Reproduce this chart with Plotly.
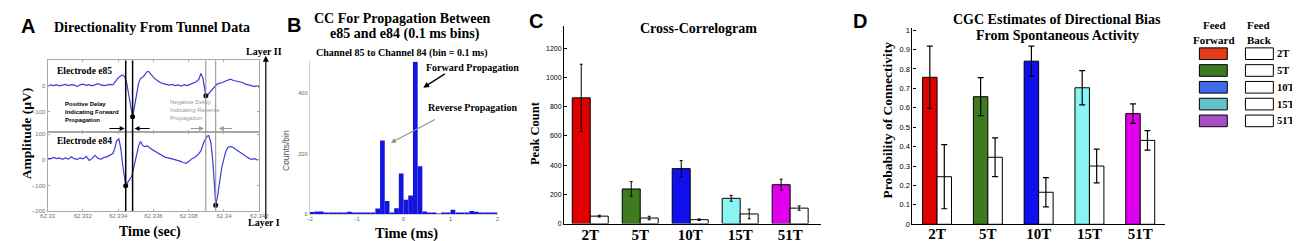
import plotly.graph_objects as go

W, H = 1300, 241

# ---------------- Panel A data (time offset in ms from 62.330 s, amplitude in µV) ----------------
A_T0 = 62.33
e85_ms = [0.00, 0.17, 0.34, 0.50, 0.67, 0.84, 1.01, 1.18, 1.35, 1.51, 1.68, 1.85, 2.02, 2.19, 2.36,
          2.52, 2.69, 2.86, 3.03, 3.20, 3.36, 3.53, 3.70, 3.87, 3.98, 4.15, 4.26, 4.37, 4.49, 4.60,
          4.71, 4.82, 4.93, 5.05, 5.16, 5.27, 5.38, 5.49, 5.61, 5.72, 5.83, 5.94, 6.06, 6.22, 6.39,
          6.56, 6.73, 6.90, 7.06, 7.23, 7.40, 7.57, 7.74, 7.91, 8.07, 8.24, 8.41, 8.58, 8.69, 8.80,
          8.86, 8.97, 9.08, 9.20, 9.31, 9.42, 9.59, 9.76, 9.92, 10.09, 10.26, 10.37, 10.54, 10.71,
          10.88, 11.05, 11.21, 11.38, 11.55, 11.72, 11.89, 12.00]
e85_uv = [-2, 3, 0, 4, -1, 3, 5, 0, 4, 2, -3, 3, 6, 1, 4,
          -1, 2, 8, 3, 0, 2, 5, 3, 20, 28, 38, 41, 34, 10, -35,
          -80, -120, -80, -30, 10, 28, 32, 40, 53, 55, 45, 35, 28, 20, 12,
          8, 6, 2, 5, 0, 3, -2, 4, 0, 5, 10, 14, 25, 47, 30,
          0, -39, -35, -25, -15, -6, 5, 10, 12, 18, 22, 25, 20, 18,
          14, 12, 6, 4, 0, -4, 0, -6]
e84_ms = [0.00, 0.17, 0.34, 0.50, 0.67, 0.84, 1.01, 1.18, 1.35, 1.51, 1.68, 1.85, 2.02, 2.19, 2.36,
          2.52, 2.69, 2.86, 3.03, 3.20, 3.36, 3.53, 3.70, 3.81, 3.92, 4.04, 4.15, 4.26, 4.37, 4.43,
          4.54, 4.65, 4.77, 4.82, 4.93, 5.05, 5.16, 5.27, 5.38, 5.49, 5.66, 5.83, 6.00, 6.17, 6.34,
          6.50, 6.67, 6.84, 7.01, 7.18, 7.35, 7.51, 7.68, 7.85, 8.02, 8.19, 8.35, 8.52, 8.69, 8.86,
          9.03, 9.14, 9.25, 9.36, 9.48, 9.53, 9.64, 9.76, 9.87, 9.98, 10.09, 10.20, 10.37, 10.54,
          10.71, 10.88, 11.05, 11.21, 11.38, 11.55, 11.72, 11.89, 12.00]
e84_uv = [6, 4, 10, 5, 8, 2, 8, 3, 12, 5, 2, 8, 4, 14, -2,
          5, 18, 6, 3, 10, 12, 20, 25, 45, 75, 82, 45, -20, -80, -101,
          -88, -76, -65, -51, -20, 15, 55, 72, 58, 52, 55, 45, 38, 30, 25,
          18, 10, 8, 5, 2, 0, -5, -10, -13, -5, 5, 10, 20, 35, 70,
          92, 95, 70, 0, -120, -178, -140, -80, -30, 0, 30, 48, 53, 48,
          40, 32, 22, 14, 8, 2, 5, 0, 2]
fwd_delay_ms = [4.43, 4.82]
rev_delay_ms = [8.97, 9.53]
e85_marks_ms = [4.82, 8.97]
e85_marks_uv = [-120, -39]
e84_marks_ms = [4.43, 9.53]
e84_marks_uv = [-101, -178]
a_xticks_s = [62.33, 62.332, 62.334, 62.336, 62.338, 62.34, 62.342]
a_xtick_text = ["62.33", "62.332", "62.334", "62.336", "62.338", "62.34", "62.342"]

# ---------------- Panel B data (cross-correlogram, 0.1 ms bins) ----------------
cc_bin_ms = [-1.95, -1.85, -1.75, -1.65, -1.55, -1.45, -1.35, -1.25, -1.15, -1.05,
             -0.95, -0.85, -0.75, -0.65, -0.55, -0.45, -0.35, -0.25, -0.15, -0.05,
             0.05, 0.15, 0.25, 0.35, 0.45, 0.55, 0.65, 0.75, 0.85, 0.95,
             1.05, 1.15, 1.25, 1.35, 1.45, 1.55, 1.65, 1.75, 1.85, 1.95]
cc_counts = [6, 8, 8, 5, 3, 2, 2, 3, 7, 5,
             3, 5, 2, 3, 18, 244, 43, 4, 19, 134,
             47, 61, 505, 158, 8, 4, 2, 1, 3, 2,
             14, 5, 3, 5, 10, 7, 4, 3, 2, 3]

# ---------------- Panels C & D data ----------------
groups = ["2T", "5T", "10T", "15T", "51T"]
c_ff = [860, 237, 376, 173, 266]
c_ff_err = [230, 50, 55, 20, 38]
c_fb = [51, 38, 27, 66, 106]
c_fb_err = [6, 12, 5, 33, 15]
d_ff = [0.757, 0.657, 0.84, 0.703, 0.57]
d_ff_err = [0.16, 0.098, 0.077, 0.088, 0.05]
d_fb = [0.245, 0.345, 0.165, 0.30, 0.432]
d_fb_err = [0.165, 0.10, 0.075, 0.087, 0.05]
c_ticks = [0, 200, 400, 600, 800, 1000, 1200]
d_ticks = [0, 0.1, 0.2, 0.3, 0.4, 0.5, 0.6, 0.7, 0.8, 0.9, 1.0]
d_tick_text = ["0", "0.1", "0.2", "0.3", "0.4", "0.5", "0.6", "0.7", "0.8", "0.9", "1"]

bar_colors = ["#e00000", "#3e7a1e", "#1010ee", "#8af4f4", "#e000ee"]
legend_colors = ["#e63a1c", "#3b7a25", "#3f6be8", "#63c2c6", "#a64fc4"]

SERIF = "Liberation Serif"
SANS = "Liberation Sans"


def px(x):
    return x / W


def py(y):
    return 1 - y / H


def to_s(ms_list):
    return [A_T0 + m / 1000.0 for m in ms_list]


fig = go.Figure()

# Panel A traces
trace_col = "#3c3cd6"
fig.add_trace(go.Scatter(x=to_s(e85_ms), y=e85_uv, mode="lines", line=dict(color=trace_col, width=1.2),
                         xaxis="x", yaxis="y", showlegend=False))
fig.add_trace(go.Scatter(x=to_s(e84_ms), y=e84_uv, mode="lines", line=dict(color=trace_col, width=1.2),
                         xaxis="x2", yaxis="y2", showlegend=False))
fig.add_trace(go.Scatter(x=to_s(e85_marks_ms), y=e85_marks_uv, mode="markers",
                         marker=dict(color="black", size=5), xaxis="x", yaxis="y", showlegend=False))
fig.add_trace(go.Scatter(x=to_s(e84_marks_ms), y=e84_marks_uv, mode="markers",
                         marker=dict(color="black", size=5), xaxis="x2", yaxis="y2", showlegend=False))

# Panel B
fig.add_trace(go.Bar(x=cc_bin_ms, y=cc_counts, width=0.1, marker=dict(color="#1414e0", line=dict(width=0)),
                     xaxis="x3", yaxis="y3", showlegend=False))

# Panel C
bw_c = 0.36
fig.add_trace(go.Bar(x=groups, y=c_ff, width=bw_c, offset=-bw_c,
                     marker=dict(color=bar_colors, line=dict(color="black", width=1)),
                     error_y=dict(type="data", array=c_ff_err, color="black", thickness=1, width=1.5),
                     xaxis="x4", yaxis="y4", showlegend=False))
fig.add_trace(go.Bar(x=groups, y=c_fb, width=bw_c, offset=0,
                     marker=dict(color="white", line=dict(color="black", width=1)),
                     error_y=dict(type="data", array=c_fb_err, color="black", thickness=1, width=1.5),
                     xaxis="x4", yaxis="y4", showlegend=False))

# Panel D
bw_d = 0.285
fig.add_trace(go.Bar(x=groups, y=d_ff, width=bw_d, offset=-bw_d,
                     marker=dict(color=bar_colors, line=dict(color="black", width=1)),
                     error_y=dict(type="data", array=d_ff_err, color="black", thickness=1.2, width=3),
                     xaxis="x5", yaxis="y5", showlegend=False))
fig.add_trace(go.Bar(x=groups, y=d_fb, width=bw_d, offset=0,
                     marker=dict(color="white", line=dict(color="black", width=1)),
                     error_y=dict(type="data", array=d_fb_err, color="black", thickness=1.2, width=3),
                     xaxis="x5", yaxis="y5", showlegend=False))

# ---------------- Axes ----------------
a_box = "#a8a8a8"
a_tick_font = dict(family=SANS, size=6, color="#707070")
common_a = dict(showgrid=False, zeroline=False, showline=True, mirror="ticks", linecolor=a_box,
                ticks="inside", ticklen=2, tickcolor=a_box, tickfont=a_tick_font)
xa_dom = [px(32), px(246.7)]
cat_font = dict(family=SERIF, size=15, color="black", weight="bold")

layout_axes = dict(
    xaxis=dict(domain=xa_dom, range=[62.33, 62.342], anchor="y", tickvals=a_xticks_s,
               showticklabels=False, **common_a),
    yaxis=dict(domain=[py(126), py(52)], range=[-180, 97], anchor="x", tickvals=[-100, 0, 100], **common_a),
    xaxis2=dict(domain=xa_dom, range=[62.33, 62.342], anchor="y2", tickvals=a_xticks_s,
                ticktext=a_xtick_text, ticklabelstandoff=-1, **common_a),
    yaxis2=dict(domain=[py(207), py(126)], range=[-200, 108], anchor="x2",
                tickvals=[-200, -100, 0, 100], **common_a),
    xaxis3=dict(domain=[px(297.7), px(488.3)], range=[-2, 2], anchor="y3", tickvals=[-2, -1, 0, 1, 2],
                showgrid=False, zeroline=False, showline=True, linecolor="#d0d0d0", ticks="",
                ticklabelstandoff=-1,
                tickfont=dict(family=SANS, size=5.5, color="#606060")),
    yaxis3=dict(domain=[py(210), py(53)], range=[0, 506], anchor="x3", tickvals=[0, 200, 400],
                showgrid=False, zeroline=False, showline=True, linecolor="#d0d0d0", ticks="",
                tickfont=dict(family=SANS, size=5.5, color="#606060")),
    xaxis4=dict(domain=[px(555.7), px(816.7)], type="category", range=[-0.525, 4.625], anchor="y4",
                showgrid=False, zeroline=False, showline=True, linecolor="black", linewidth=1, ticks="",
                ticklabelstandoff=-3, tickfont=cat_font),
    yaxis4=dict(domain=[py(220), py(16.7)], range=[0, 1350], anchor="x4", tickvals=c_ticks,
                showgrid=False, zeroline=False, showline=True, linecolor="black", linewidth=1,
                ticks="inside", ticklen=3, tickcolor="black",
                tickfont=dict(family=SANS, size=7, color="black")),
    xaxis5=dict(domain=[px(909), px(1165)], type="category", range=[-0.485, 4.485], anchor="y5",
                showgrid=False, zeroline=False, showline=True, linecolor="black", linewidth=1.2, ticks="",
                ticklabelstandoff=-4, tickfont=cat_font),
    yaxis5=dict(domain=[py(220.7), py(18.5)], range=[0, 1.011], anchor="x5", tickvals=d_ticks,
                ticktext=d_tick_text, showgrid=False, zeroline=False, showline=True, linecolor="black",
                linewidth=1.2, ticks="inside", ticklen=3, tickcolor="black",
                tickfont=dict(family=SANS, size=7.5, color="black")),
)

# ---------------- Shapes ----------------
shapes = []
for ms in fwd_delay_ms:
    t = A_T0 + ms / 1000.0
    shapes.append(dict(type="line", xref="x", yref="y domain", x0=t, x1=t, y0=0, y1=1,
                       line=dict(color="black", width=1.5)))
    shapes.append(dict(type="line", xref="x2", yref="y2 domain", x0=t, x1=t, y0=0, y1=1,
                       line=dict(color="black", width=1.5)))
for ms in rev_delay_ms:
    t = A_T0 + ms / 1000.0
    shapes.append(dict(type="line", xref="x", yref="y domain", x0=t, x1=t, y0=0, y1=1,
                       line=dict(color="#8c8c8c", width=1)))
    shapes.append(dict(type="line", xref="x2", yref="y2 domain", x0=t, x1=t, y0=0, y1=1,
                       line=dict(color="#8c8c8c", width=1)))

# legend swatches
row_tops = [39, 56.3, 73.6, 90.9, 108.2]
for i, g in enumerate(groups):
    y0, y1 = row_tops[i], row_tops[i] + 12
    shapes.append(dict(type="rect", xref="paper", yref="paper", x0=px(1200), x1=px(1228.3),
                       y0=py(y1), y1=py(y0), fillcolor=legend_colors[i],
                       line=dict(color="black", width=1)))
    shapes.append(dict(type="rect", xref="paper", yref="paper", x0=px(1246.7), x1=px(1275),
                       y0=py(y1), y1=py(y0), fillcolor="white",
                       line=dict(color="black", width=1)))

# ---------------- Annotations ----------------
ann = []


def text(x, y, s, size, family=SERIF, color="black", xanchor="center", angle=0, bold=True):
    ann.append(dict(x=px(x), y=py(y), xref="paper", yref="paper", text=("<b>%s</b>" % s) if bold else s,
                    showarrow=False, xanchor=xanchor, yanchor="middle", textangle=angle, borderpad=0,
                    font=dict(family=family, size=size, color=color)))


# Panel A
text(12, 16, "A", 20, family=SANS)
text(138, 18, "Directionality From Tunnel Data", 14)
text(10, 127, "Amplitude (µV)", 13.5, angle=-90)
text(136, 229, "Time (sec)", 14)
text(41, 63, "Electrode e85", 9.5, xanchor="left")
text(41, 135, "Electrode e84", 9.5, xanchor="left")
ann.append(dict(x=px(47.5), y=py(105), xref="paper", yref="paper", showarrow=False, xanchor="left",
                yanchor="middle", align="left",
                text="<b>Positive Delay<br>Indicating Forward<br>Propagation</b>",
                font=dict(family=SANS, size=6, color="black")))
ann.append(dict(x=px(154.5), y=py(102.7), xref="paper", yref="paper", showarrow=False, xanchor="left",
                yanchor="middle", align="left",
                text="Negative Delay<br>Indicating Reverse<br>Propagation",
                font=dict(family=SANS, size=6, color="#9a9a9a")))
text(251.5, 43, "Layer II", 10)
text(251.5, 219, "Layer I", 10)
ann.append(dict(x=px(253.3), y=py(47), xref="paper", yref="paper", ax=0, ay=165, axref="pixel",
                ayref="pixel", text="", showarrow=True, arrowhead=2, arrowsize=1, arrowwidth=1.2,
                arrowcolor="black"))
# delay arrows (upper subplot coordinates)
arrow_y = -165
for head_ms, tail_ms, col in [(4.37, 3.42, "black"), (4.93, 5.87, "black"),
                              (8.86, 8.02, "#9a9a9a"), (9.70, 10.54, "#9a9a9a")]:
    ann.append(dict(x=A_T0 + head_ms / 1000.0, y=arrow_y, xref="x", yref="y",
                    ax=A_T0 + tail_ms / 1000.0, ay=arrow_y, axref="x", ayref="y", text="",
                    showarrow=True, arrowhead=2, arrowsize=0.9, arrowwidth=1.1, arrowcolor=col))

# Panel B
text(281.5, 15, "B", 20, family=SANS)
text(392, 9, "CC For Propagation Between", 14)
text(394, 24.5, "e85 and e84 (0.1 ms bins)", 14)
text(391, 44, "Channel 85 to Channel 84 (bin = 0.1 ms)", 10)
text(274, 145, "Counts/bin", 8.5, family=SANS, color="#505050", angle=-90, bold=False)
text(396, 230, "Time (ms)", 14.5)
text(415, 59, "Forward Propagation", 10, xanchor="left")
text(416.5, 100, "Reverse Propagation", 10, xanchor="left")
ann.append(dict(x=0.42, y=419, xref="x3", yref="y3", ax=0.91, ay=468, axref="x3", ayref="y3", text="",
                showarrow=True, arrowhead=2, arrowsize=0.9, arrowwidth=1.3, arrowcolor="black"))
ann.append(dict(x=-0.27, y=236, xref="x3", yref="y3", ax=0.70, ay=316, axref="x3", ayref="y3", text="",
                showarrow=True, arrowhead=2, arrowsize=0.9, arrowwidth=1.1, arrowcolor="#909090"))

# Panel C
text(527, 11, "C", 20, family=SANS)
text(692, 19, "Cross-Correlogram", 14)
text(527, 127, "Peak Count", 12.5, angle=-90)

# Panel D
text(856, 11, "D", 20, family=SANS)
text(1056, 10, "CGC Estimates of Directional Bias", 14)
text(1056, 26, "From Spontaneous Activity", 14)
text(884, 113, "Probability of Connectivity", 13.5, angle=-90)

# Legend text
text(1215, 15, "Feed", 11)
text(1215, 31, "Forward", 11)
text(1247, 15, "Feed", 11, xanchor="left")
text(1247, 31, "Back", 11, xanchor="left")
for i, g in enumerate(groups):
    text(1278, row_tops[i] + 6, g, 10.5, xanchor="left")

fig.update_layout(
    width=W, height=H, margin=dict(l=0, r=0, t=0, b=0),
    paper_bgcolor="white", plot_bgcolor="white",
    barmode="overlay", showlegend=False,
    shapes=shapes, annotations=ann,
    **layout_axes,
)

fig.write_html("out.html")
